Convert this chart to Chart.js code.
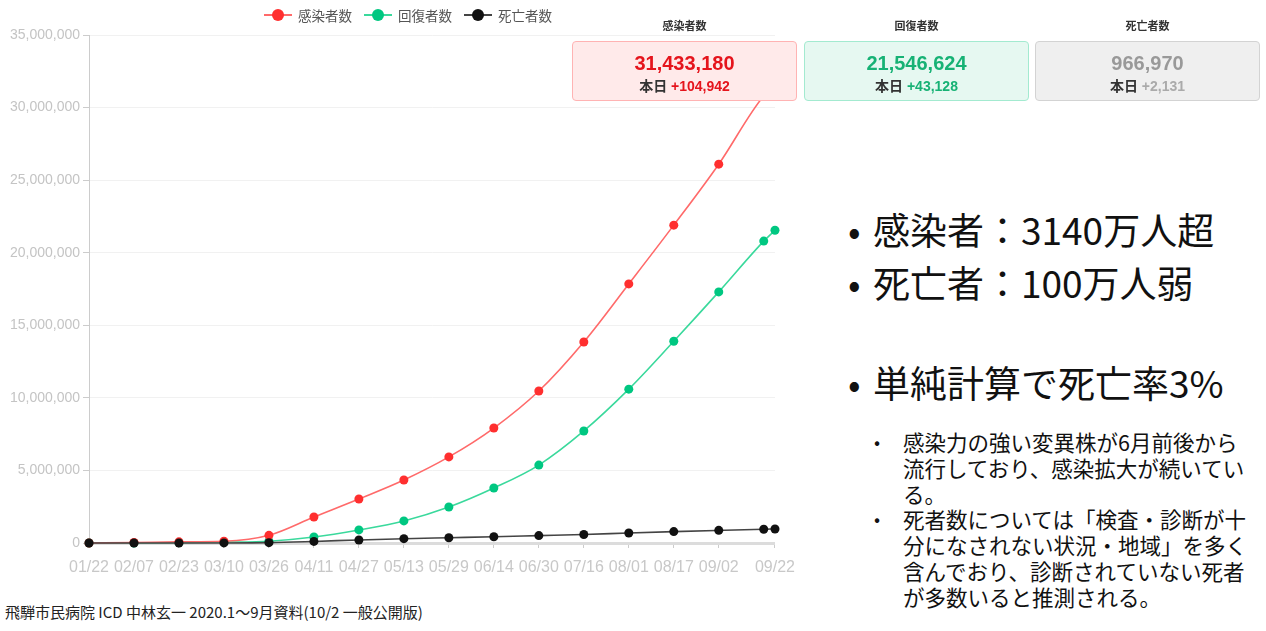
<!DOCTYPE html>
<html>
<head>
<meta charset="utf-8">
<script src="https://cdn.jsdelivr.net/npm/chart.js@4"></script>
<style>
  html, body { margin: 0; padding: 0; background: #fff; }
  body { width: 1266px; height: 631px; position: relative; overflow: hidden; font-family: "Noto Sans CJK JP", "Liberation Sans", sans-serif; }
  #chartWrap { position: absolute; left: 0; top: 0; width: 805px; height: 590px; }
  #legend { position: absolute; top: 6px; left: 264px; height: 18px; display: flex; align-items: center; font-size: 13.5px; color: #555; }
  .lg { display: flex; align-items: center; margin-right: 12px; }
  .lg .ic { position: relative; width: 28px; height: 12px; margin-right: 6px; }
  .lg .ic .ln { position: absolute; left: 0; right: 0; top: 5px; height: 2px; }
  .lg .ic .dt { position: absolute; left: 8px; top: 0; width: 12px; height: 12px; border-radius: 50%; }
  .hdr { position: absolute; top: 17px; width: 225px; text-align: center; font-size: 11px; font-weight: bold; color: #333; }
  .box { position: absolute; top: 41px; width: 223px; height: 58px; border: 1px solid; border-radius: 4px; text-align: center; font-family: "Liberation Sans", "Noto Sans CJK JP", sans-serif; }
  .box .num { position: absolute; left: 0; right: 0; top: 9px; font-size: 20px; font-weight: bold; line-height: 24px; }
  .box .sub { position: absolute; left: 0; right: 0; top: 35px; font-size: 14px; font-weight: bold; line-height: 18px; color: #333; }
  .big { position: absolute; left: 848px; font-size: 37px; line-height: 50px; color: #111; white-space: nowrap; }
  .big .b { display: inline-block; width: 25px; }
  .small { position: absolute; left: 874px; top: 429px; font-size: 21.5px; line-height: 25.8px; color: #111; white-space: nowrap; }
  .small .row { position: relative; padding-left: 29px; }
  .small .row .b { position: absolute; left: 0; top: 0; font-size: 18px; }
  #footer { position: absolute; left: 5px; top: 601px; font-size: 15px; color: #222; white-space: nowrap; }
</style>
</head>
<body>
<div id="chartWrap"><canvas id="c" width="805" height="590"></canvas></div>

<div id="legend"></div>

<div class="hdr" style="left:572px">感染者数</div>
<div class="hdr" style="left:804px">回復者数</div>
<div class="hdr" style="left:1035px">死亡者数</div>

<div class="box" style="left:572px; background:#ffeaea; border-color:#ffb3b3;">
  <div class="num" style="color:#e5141c">31,433,180</div>
  <div class="sub">本日 <span style="color:#e5141c">+104,942</span></div>
</div>
<div class="box" style="left:804px; background:#e6f8f1; border-color:#a3ead0;">
  <div class="num" style="color:#17b275">21,546,624</div>
  <div class="sub">本日 <span style="color:#17b275">+43,128</span></div>
</div>
<div class="box" style="left:1035px; background:#efefef; border-color:#d3d3d3;">
  <div class="num" style="color:#999">966,970</div>
  <div class="sub">本日 <span style="color:#aaa">+2,131</span></div>
</div>

<div class="big" style="top:204px"><span class="b">•</span>感染者：3140万人超</div>
<div class="big" style="top:257px"><span class="b">•</span>死亡者：100万人弱</div>
<div class="big" style="top:357px"><span class="b">•</span>単純計算で死亡率3%</div>

<div class="small">
  <div class="row"><span class="b">•</span>感染力の強い変異株が6月前後から<br>流行しており、感染拡大が続いてい<br>る。</div>
  <div class="row"><span class="b">•</span>死者数については「検査・診断が十<br>分になされない状況・地域」を多く<br>含んでおり、診断されていない死者<br>が多数いると推測される。</div>
</div>

<div id="footer">飛騨市民病院 ICD 中林玄一 2020.1～9月資料(10/2 一般公開版)</div>

<script>
// ---- data (days since 01/22/2020) ----
const dayOffsets = [0, 16, 32, 48, 64, 80, 96, 112, 128, 144, 160, 176, 192, 208, 224, 240, 244];
const infected  = [555, 34000, 79000, 119000, 530000, 1790000, 3030000, 4340000, 5930000, 7920000, 10470000, 13850000, 17850000, 21900000, 26100000, 30800000, 31433180];
const recovered = [28, 2000, 24000, 64000, 125000, 410000, 900000, 1520000, 2480000, 3790000, 5370000, 7720000, 10600000, 13900000, 17300000, 20800000, 21546624];
const deaths    = [17, 720, 2470, 4300, 24000, 108000, 210000, 297000, 365000, 432000, 510000, 588000, 690000, 785000, 870000, 950000, 966970];
const tickDays   = [0, 16, 32, 48, 64, 80, 96, 112, 128, 144, 160, 176, 192, 208, 224, 244];
const tickLabels = ['01/22','02/07','02/23','03/10','03/26','04/11','04/27','05/13','05/29','06/14','06/30','07/16','08/01','08/17','09/02','09/22'];
const seriesNames = ['感染者数', '回復者数', '死亡者数'];

const styles = [
  { line: '#ff6a6a', point: '#ff2f2f' },
  { line: '#3ad99c', point: '#00c781' },
  { line: '#444444', point: '#111111' }
];

// HTML legend
const lg = document.getElementById('legend');
seriesNames.forEach((n, i) => {
  const d = document.createElement('div');
  d.className = 'lg';
  d.innerHTML = '<div class="ic"><div class="ln" style="background:' + styles[i].line + '"></div><div class="dt" style="background:' + styles[i].point + '"></div></div><span>' + n + '</span>';
  lg.appendChild(d);
});

function toPts(arr) { return dayOffsets.map((d, i) => ({ x: d, y: arr[i] })); }
const allSeries = [infected, recovered, deaths];
const orders = [1, 2, 0];

const datasets = allSeries.map((arr, i) => ({
  label: seriesNames[i],
  data: toPts(arr),
  borderColor: styles[i].line,
  backgroundColor: styles[i].point,
  pointBackgroundColor: styles[i].point,
  pointBorderColor: styles[i].point,
  pointRadius: 4.5,
  pointBorderWidth: 0,
  borderWidth: 1.6,
  cubicInterpolationMode: 'monotone',
  clip: false,
  order: orders[i]
}));

new Chart(document.getElementById('c'), {
  type: 'line',
  data: { datasets },
  options: {
    responsive: false,
    animation: false,
    layout: { padding: { top: 35, right: 21, left: 0, bottom: 0 } },
    plugins: { legend: { display: false }, tooltip: { enabled: false } },
    scales: {
      x: {
        type: 'linear',
        min: 0,
        max: 244,
        afterBuildTicks: (s) => { s.ticks = tickDays.map(v => ({ value: v })); },
        afterFit: (s) => { s.height = 47; },
        ticks: {
          autoSkip: false,
          maxRotation: 0,
          padding: 10,
          color: '#c8c8c8',
          font: { family: 'Liberation Sans', size: 16 },
          callback: (v) => { const k = tickDays.indexOf(v); return k >= 0 ? tickLabels[k] : ''; }
        },
        grid: { drawOnChartArea: false, drawTicks: true, tickLength: 5, tickColor: '#cccccc' },
        border: { color: '#dcdcdc', width: 3 }
      },
      y: {
        min: 0,
        max: 35000000,
        afterFit: (s) => { s.width = 89; },
        ticks: {
          stepSize: 5000000,
          padding: 3,
          color: '#c4c4c4',
          font: { family: 'Liberation Sans', size: 14 },
          callback: (v) => Number(v).toLocaleString('en-US')
        },
        grid: { color: '#f1f1f1', tickColor: '#cccccc', tickLength: 6 },
        border: { color: '#cccccc', width: 1 }
      }
    }
  }
});
</script>
</body>
</html>
